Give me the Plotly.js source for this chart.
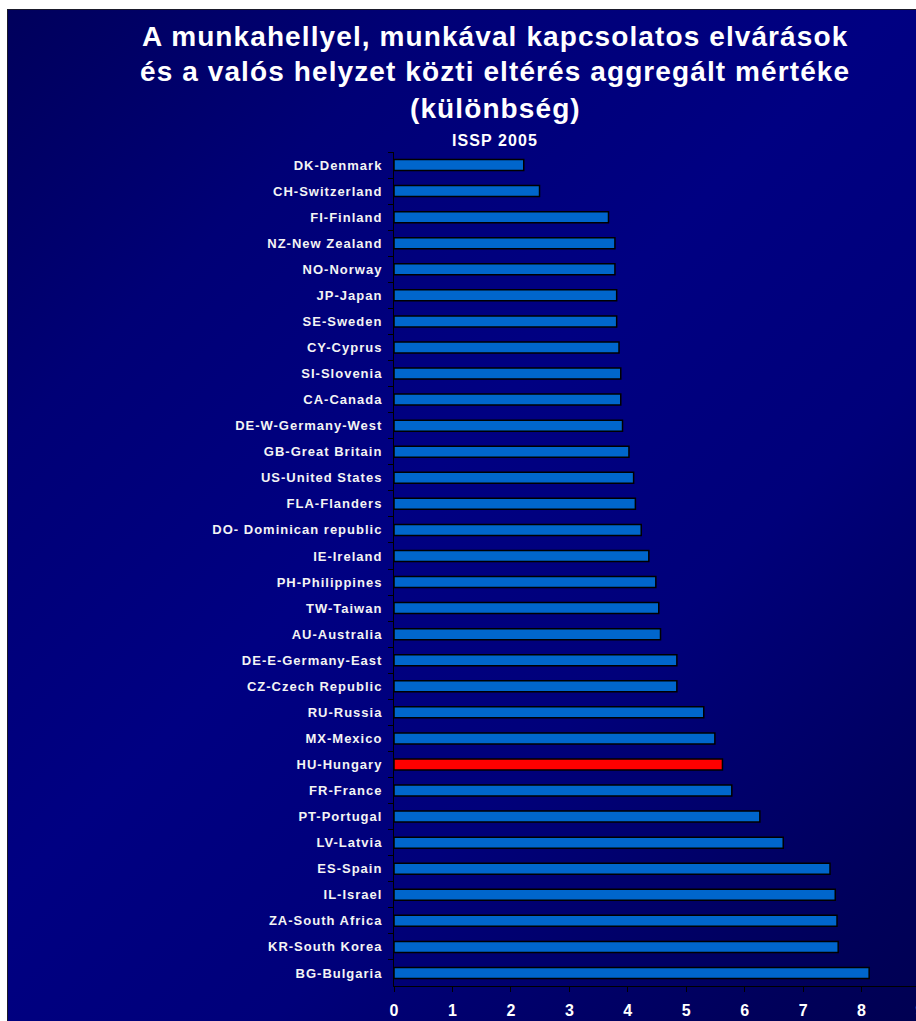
<!DOCTYPE html>
<html>
<head>
<meta charset="utf-8">
<script src="https://cdn.plot.ly/plotly-3.0.1.min.js"></script>
<style>
  html, body { margin: 0; padding: 0; width: 916px; height: 1021px; overflow: hidden; background: #ffffff; }
  #bg { position: absolute; left: 7px; top: 9px; width: 930px; height: 1030px;
        background: linear-gradient(135deg, #00005c 0%, #000076 22%, #000082 45%, #00007a 65%, #00005a 90%, #000050 100%);
        border-left: 1px solid #1a1a2a; border-top: 1px solid #1a1a2a; }
  #chart { position: absolute; left: 0; top: 0; width: 930px; height: 1021px; }
  .ytick text { letter-spacing: 1px; }
  .annotation-text { letter-spacing: 1.1px; }
</style>
</head>
<body>
<div id="bg"></div>
<div id="chart"></div>
<script>
const countries = [
  "DK-Denmark", "CH-Switzerland", "FI-Finland", "NZ-New Zealand", "NO-Norway",
  "JP-Japan", "SE-Sweden", "CY-Cyprus", "SI-Slovenia", "CA-Canada",
  "DE-W-Germany-West", "GB-Great Britain", "US-United States", "FLA-Flanders",
  "DO- Dominican republic", "IE-Ireland", "PH-Philippines", "TW-Taiwan",
  "AU-Australia", "DE-E-Germany-East", "CZ-Czech Republic", "RU-Russia",
  "MX-Mexico", "HU-Hungary", "FR-France", "PT-Portugal", "LV-Latvia",
  "ES-Spain", "IL-Israel", "ZA-South Africa", "KR-South Korea", "BG-Bulgaria"
];
const values = [
  2.22, 2.49, 3.67, 3.78, 3.78,
  3.81, 3.81, 3.85, 3.88, 3.88,
  3.91, 4.02, 4.10, 4.13,
  4.23, 4.36, 4.48, 4.53,
  4.56, 4.84, 4.84, 5.30,
  5.49, 5.62, 5.78, 6.26, 6.66,
  7.46, 7.55, 7.58, 7.60, 8.13
];
const highlighted = "HU-Hungary";
const xTicks = [0, 1, 2, 3, 4, 5, 6, 7, 8, 9];
const titleLines = [
  "A munkahellyel, munkával kapcsolatos elvárások",
  "és a valós helyzet közti eltérés aggregált mértéke",
  "(különbség)"
];
const subtitle = "ISSP 2005";

const W = 930, H = 1021;
const M = { l: 394, r: 10, t: 152, b: 35 };
const plotW = W - M.l - M.r, plotH = H - M.t - M.b;
const px2paperX = px => (px - M.l) / plotW;
const px2paperY = py => (H - M.b - py) / plotH;

const barColors = countries.map(c => c === highlighted ? "#ff0000" : "#0066cc");
const FONT = 'Arial, "Liberation Sans", sans-serif';

const trace = {
  type: "bar",
  orientation: "h",
  x: values,
  y: countries,
  marker: { color: barColors, line: { color: "#000000", width: 1.5 } },
  hoverinfo: "x+y"
};

const titleCenters = [37, 72, 108];
const annotations = titleLines.map((t, i) => ({
  text: t,
  xref: "paper", yref: "paper",
  x: px2paperX(495), xanchor: "center",
  y: px2paperY(titleCenters[i]), yanchor: "middle",
  showarrow: false,
  font: { family: FONT, size: 28, weight: "bold", color: "#ffffff" }
}));
annotations.push({
  text: subtitle,
  xref: "paper", yref: "paper",
  x: px2paperX(495), xanchor: "center",
  y: px2paperY(140), yanchor: "middle",
  showarrow: false,
  font: { family: FONT, size: 16, weight: "bold", color: "#ffffff" }
});

const layout = {
  width: W,
  height: H,
  margin: M,
  paper_bgcolor: "rgba(0,0,0,0)",
  plot_bgcolor: "rgba(0,0,0,0)",
  showlegend: false,
  bargap: 0.58,
  font: { family: FONT, color: "#ffffff" },
  annotations: annotations,
  xaxis: {
    range: [0, 9],
    tickvals: xTicks,
    ticktext: xTicks.map(String),
    showgrid: false,
    zeroline: false,
    showline: true,
    linecolor: "#000000",
    linewidth: 1,
    ticks: "outside",
    ticklen: 5,
    tickcolor: "#000000",
    tickwidth: 1,
    ticklabelstandoff: 5,
    tickfont: { family: FONT, size: 16, weight: "bold", color: "#ffffff" },
    fixedrange: true
  },
  yaxis: {
    type: "category",
    autorange: "reversed",
    showgrid: false,
    zeroline: false,
    showline: true,
    linecolor: "#000000",
    linewidth: 1,
    ticks: "outside",
    tickson: "boundaries",
    ticklen: 5,
    tickcolor: "#000000",
    tickwidth: 1,
    ticklabelstandoff: 8,
    tickfont: { family: FONT, size: 13, weight: "bold", color: "#f4f4f4" },
    fixedrange: true
  }
};

Plotly.newPlot("chart", [trace], layout, { displayModeBar: false, staticPlot: true });
</script>
</body>
</html>
